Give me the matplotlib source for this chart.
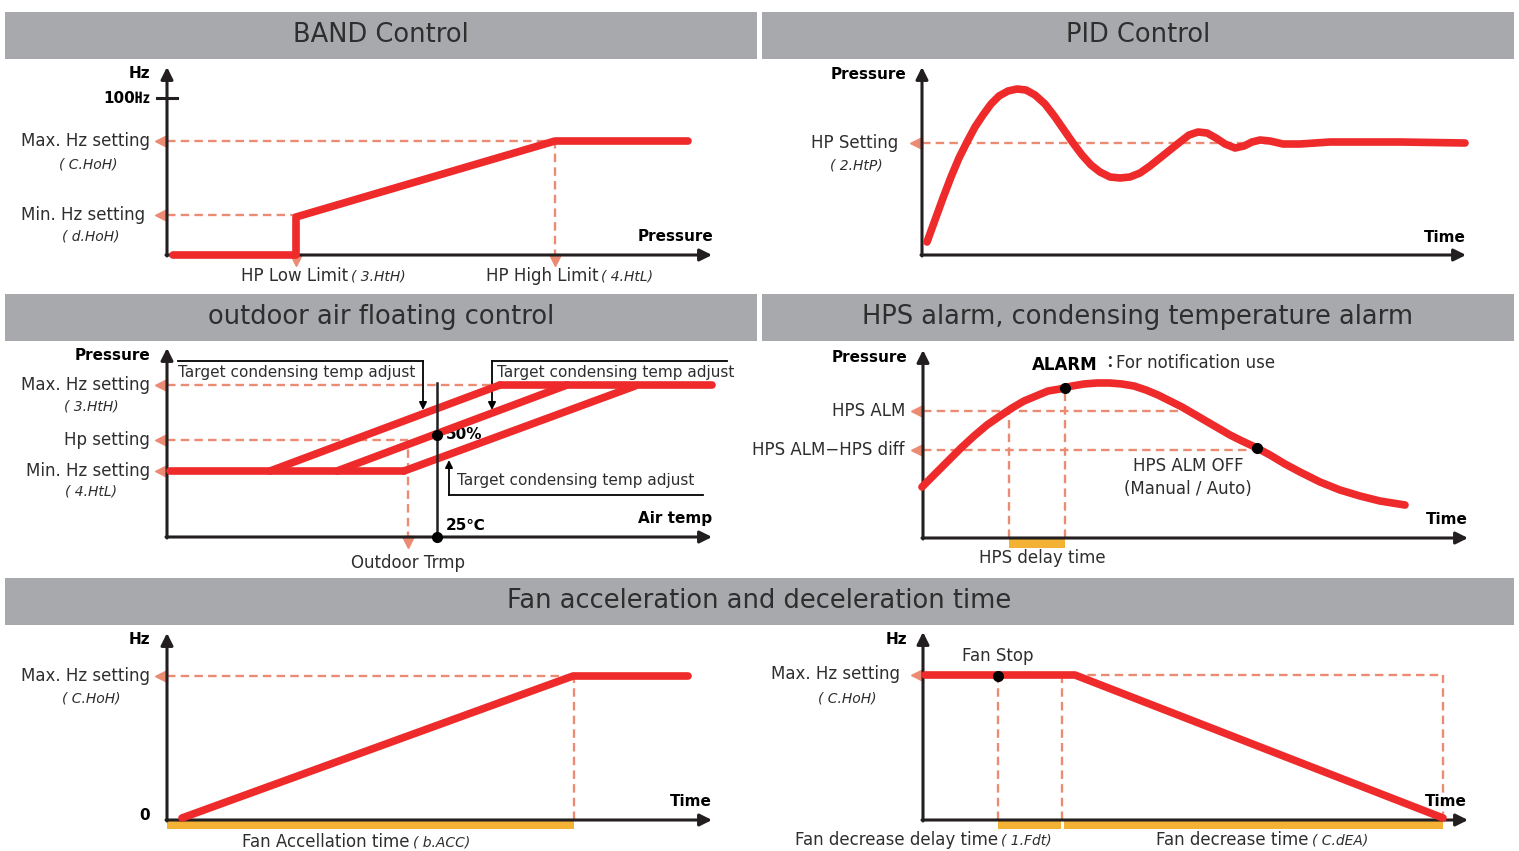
import matplotlib
matplotlib.use("Agg")
import matplotlib.pyplot as plt
from matplotlib.patches import Rectangle

plt.rcParams['font.family'] = ['DejaVu Sans', 'Noto Sans CJK KR']

W, H = 1519, 851
RED = '#ee2a2b'
SALMON = '#ec8b73'
ORANGE = '#f3b233'
GRAY = '#a8a9ad'
DARK = '#231f20'
TXT = '#2e2e2e'

# ---- data: panel units, right / up from each axis origin ----
# BAND control
band_x = [6, 129, 129, 388, 521]
band_y = [0, 0, 38, 114, 114]
band_max, band_min, band_100 = 114, 40, 157
band_low_x, band_high_x = 129, 388

# PID control
pid_x = [5, 13, 21, 29, 37, 45, 53, 61, 69, 77, 86, 95, 104, 113, 123, 133,
         142, 151, 160, 169, 178, 188, 198, 208, 218, 228, 238, 248, 258, 267,
         276, 285, 294, 303, 313, 322, 330, 338, 348, 361, 378, 408, 478, 543]
pid_y = [13, 35, 57, 78, 97, 113, 128, 140, 151, 159, 164, 166, 165, 160, 151,
         138, 125, 112, 100, 90, 83, 78, 77, 78, 82, 89, 97, 105, 113, 120,
         123, 122, 117, 111, 107, 109, 113, 115, 114, 111, 111, 113, 113, 112]
pid_set = 112

# outdoor air floating control
oat_base_x = [3, 237]
oat_base_y = [66, 66]
oat_diag_x = [[103, 333], [170, 400], [237, 468]]
oat_diag_y = [[66, 152], [66, 152], [66, 151]]
oat_top_x = [333, 545]
oat_top_y = [152, 152]
oat_max, oat_hp, oat_min = 152, 97, 66
oat_outdoor_x = 241
oat_25_x, oat_50_y, oat_line_top = 270, 102, 154

# HPS alarm
hps_x = [-1, 12, 25, 38, 51, 64, 77, 89, 101, 113, 125, 137, 149, 161, 174,
         187, 199, 211, 223, 235, 247, 259, 271, 283, 295, 307, 319, 334, 347,
         362, 377, 397, 417, 437, 457, 482]
hps_y = [51, 64, 77, 90, 102, 113, 122, 130, 137, 142, 147, 149, 152, 154, 155,
         155, 154, 152, 148, 143, 137, 131, 124, 117, 110, 103, 97, 90, 83,
         74, 66, 56, 48, 42, 37, 33]
hps_alm, hps_diff = 127, 88
hps_delay = [86, 142]
hps_alarm_pt = (142, 150)
hps_off_pt = (334, 90)

# fan acceleration
acc_x = [15, 406, 521]
acc_y = [2, 144, 144]
acc_max, acc_end = 144, 407

# fan deceleration
dec_x = [2, 152, 520]
dec_y = [145, 145, 2]
dec_max, dec_stop, dec_delay_end, dec_end = 145, 75, 139, 520

fig = plt.figure(figsize=(W / 100, H / 100), dpi=100)
fig.patch.set_facecolor('white')


def header(x0, y0, x1, y1, title):
    fig.add_artist(Rectangle((x0 / W, 1 - y1 / H), (x1 - x0) / W, (y1 - y0) / H,
                             transform=fig.transFigure, color=GRAY, lw=0))
    fig.text((x0 + x1) / 2 / W, 1 - (y0 + y1) / 2 / H, title, ha='center',
             va='center', fontsize=18.5, color=TXT)


def panel(x0, y0, x1, y1, ox, oy):
    ax = fig.add_axes([x0 / W, 1 - y1 / H, (x1 - x0) / W, (y1 - y0) / H])
    ax.set_xlim(x0 - ox, x1 - ox)
    ax.set_ylim(oy - y1, oy - y0)
    ax.axis('off')
    return ax


def axis_arrows(ax, xtip, ytip):
    kw = dict(arrowstyle='-|>', color=DARK, lw=2.2, mutation_scale=18,
              shrinkA=0, shrinkB=0)
    ax.annotate('', xy=(xtip, 0), xytext=(-1, 0), arrowprops=kw)
    ax.annotate('', xy=(0, ytip), xytext=(0, -1), arrowprops=kw)


def hdash(ax, y, x1, x0=0, mark=True):
    ax.plot([x0, x1], [y, y], color=SALMON, lw=1.7, dashes=(3.6, 2.2),
            clip_on=False, zorder=2)
    if mark:
        ax.plot(-6, y, marker='<', color=SALMON, ms=8, clip_on=False, zorder=2)


def vdash(ax, x, y1, y0=0, mark=False):
    ax.plot([x, x], [y0, y1], color=SALMON, lw=1.7, dashes=(3.6, 2.2),
            clip_on=False, zorder=2)
    if mark:
        ax.plot(x, -5, marker='v', color=SALMON, ms=8, clip_on=False, zorder=2)


def red(ax, xs, ys):
    ax.plot(xs, ys, color=RED, lw=5.5, solid_capstyle='round',
            solid_joinstyle='round', clip_on=False, zorder=4)


def label(ax, x, y, s, **kw):
    kw.setdefault('fontsize', 12)
    kw.setdefault('color', TXT)
    kw.setdefault('ha', 'right')
    kw.setdefault('va', 'center')
    ax.text(x, y, s, **kw)


def bold(ax, x, y, s, ha='right', size=11):
    ax.text(x, y, s, fontsize=size, fontweight='bold', color='black', ha=ha,
            va='center')


def code(ax, x, y, s, ha='center'):
    ax.text(x, y, s, fontsize=10, color=TXT, ha=ha, va='center',
            fontstyle='italic', family=['DejaVu Sans'])


def pair(ax, x, y, s, c):
    label(ax, x, y, s)
    code(ax, x + 3, y, c, ha='left')


# headers
header(5, 12, 757, 59, 'BAND Control')
header(762, 12, 1514, 59, 'PID Control')
header(5, 294, 757, 341, 'outdoor air floating control')
header(762, 294, 1514, 341, 'HPS alarm, condensing temperature alarm')
header(5, 578, 1514, 625, 'Fan acceleration and deceleration time')

# ---- BAND control ----
ax = panel(0, 59, 759, 294, 167, 255)
hdash(ax, band_max, band_high_x)
hdash(ax, band_min, band_low_x)
vdash(ax, band_low_x, band_min, -3, mark=True)
vdash(ax, band_high_x, band_max, -3, mark=True)
axis_arrows(ax, 545, 188)
ax.plot([-10, 10], [band_100, band_100], color=DARK, lw=2.2)
red(ax, band_x, band_y)
bold(ax, -17, 182, 'Hz')
bold(ax, -17, band_100, '100㎐')
label(ax, -17, band_max, 'Max. Hz setting')
code(ax, -79, 91, '( C.HoH)')
label(ax, -22, band_min, 'Min. Hz setting')
code(ax, -76, 19, '( d.HoH)')
bold(ax, 546, 19, 'Pressure')
pair(ax, 181, -21, 'HP Low Limit', '( 3.HtH)')
pair(ax, 431, -21, 'HP High Limit', '( 4.HtL)')

# ---- PID control ----
ax = panel(759, 59, 1519, 294, 922, 255)
hdash(ax, pid_set, 540)
axis_arrows(ax, 544, 188)
red(ax, pid_x, pid_y)
bold(ax, -16, 181, 'Pressure')
label(ax, -24, pid_set, 'HP Setting')
code(ax, -66, 90, '( 2.HtP)')
bold(ax, 544, 18, 'Time')

# ---- outdoor air floating control ----
ax = panel(0, 341, 759, 578, 167, 537)
hdash(ax, oat_max, 340)
hdash(ax, oat_hp, oat_outdoor_x)
hdash(ax, oat_min, 5)
vdash(ax, oat_outdoor_x, oat_hp, -3, mark=True)
axis_arrows(ax, 545, 189)
red(ax, oat_base_x, oat_base_y)
for xs, ys in zip(oat_diag_x, oat_diag_y):
    red(ax, xs, ys)
red(ax, oat_top_x, oat_top_y)
ax.plot([oat_25_x, oat_25_x], [0, oat_line_top], color=DARK, lw=1.8, zorder=5)
ax.plot([oat_25_x, oat_25_x], [oat_50_y, 0], 'o', color='black', ms=7, zorder=6)
bold(ax, 279, oat_50_y, '50%', ha='left')
bold(ax, 279, 12, '25℃', ha='left')
bold(ax, -17, 181, 'Pressure')
label(ax, -17, oat_max, 'Max. Hz setting')
code(ax, -76, 130, '( 3.HtH)')
label(ax, -17, oat_hp, 'Hp setting')
label(ax, -17, oat_min, 'Min. Hz setting')
code(ax, -76, 45, '( 4.HtL)')
bold(ax, 545, 19, 'Air temp')
label(ax, oat_outdoor_x, -26, 'Outdoor Trmp', ha='center')
ck = dict(arrowstyle='-|>', color='black', lw=1.3, mutation_scale=11,
          shrinkA=0, shrinkB=0)
ax.plot([11, 256], [176, 176], color='black', lw=1.3)
ax.annotate('', xy=(256, 127), xytext=(256, 176), arrowprops=ck)
ax.plot([325, 560], [176, 176], color='black', lw=1.3)
ax.annotate('', xy=(325, 127), xytext=(325, 176), arrowprops=ck)
ax.plot([282, 536], [42, 42], color='black', lw=1.3)
ax.annotate('', xy=(282, 77), xytext=(282, 42), arrowprops=ck)
label(ax, 11, 165, 'Target condensing temp adjust', ha='left', fontsize=11)
label(ax, 330, 165, 'Target condensing temp adjust', ha='left', fontsize=11)
label(ax, 290, 56, 'Target condensing temp adjust', ha='left', fontsize=11)

# ---- HPS alarm ----
ax = panel(759, 341, 1519, 578, 923, 538)
hdash(ax, hps_alm, 267)
hdash(ax, hps_diff, hps_off_pt[0])
vdash(ax, hps_delay[0], hps_alm)
vdash(ax, hps_delay[1], hps_alarm_pt[1])
ax.bar((hps_delay[0] + hps_delay[1]) / 2, -10, width=hps_delay[1] - hps_delay[0],
       color=ORANGE, zorder=3)
axis_arrows(ax, 545, 188)
red(ax, hps_x, hps_y)
ax.plot(*hps_alarm_pt, 'o', color='black', ms=7, zorder=6)
ax.plot(*hps_off_pt, 'o', color='black', ms=7, zorder=6)
bold(ax, -16, 181, 'Pressure')
label(ax, -18, hps_alm, 'HPS ALM')
label(ax, -18, hps_diff, 'HPS ALM−HPS diff')
bold(ax, 109, 173, 'ALARM', ha='left', size=12)
label(ax, 178, 175, '：', ha='left', fontweight='bold')
label(ax, 193, 175, 'For notification use', ha='left')
label(ax, 265, 72, 'HPS ALM OFF', ha='center')
label(ax, 265, 49, '(Manual / Auto)', ha='center')
label(ax, 119, -20, 'HPS delay time', ha='center')
bold(ax, 545, 18, 'Time')

# ---- fan acceleration ----
ax = panel(0, 625, 759, 851, 167, 820)
hdash(ax, acc_max, acc_end)
vdash(ax, acc_end, acc_max)
ax.bar(acc_end / 2, -9, width=acc_end, color=ORANGE, zorder=3)
axis_arrows(ax, 545, 187)
red(ax, acc_x, acc_y)
bold(ax, -17, 180, 'Hz')
bold(ax, -17, 4, '0')
label(ax, -17, acc_max, 'Max. Hz setting')
code(ax, -76, 122, '( C.HoH)')
pair(ax, 243, -22, 'Fan Accellation time', '( b.ACC)')
bold(ax, 545, 18, 'Time')

# ---- fan deceleration ----
ax = panel(759, 625, 1519, 851, 923, 820)
hdash(ax, dec_max, dec_end)
vdash(ax, dec_end, dec_max)
vdash(ax, dec_stop, dec_max)
vdash(ax, dec_delay_end, dec_max)
ax.bar((dec_stop + dec_delay_end - 1) / 2, -9, width=dec_delay_end - 1 - dec_stop,
       color=ORANGE, zorder=3)
ax.bar((dec_delay_end + 2 + dec_end) / 2, -9, width=dec_end - dec_delay_end - 2,
       color=ORANGE, zorder=3)
axis_arrows(ax, 545, 188)
red(ax, dec_x, dec_y)
ax.plot(dec_stop, dec_max - 1, 'o', color='black', ms=7, zorder=6)
bold(ax, -16, 180, 'Hz')
label(ax, -23, dec_max + 1, 'Max. Hz setting')
code(ax, -76, 122, '( C.HoH)')
label(ax, dec_stop, 164, 'Fan Stop', ha='center')
pair(ax, 75, -20, 'Fan decrease delay time', '( 1.Fdt)')
pair(ax, 386, -20, 'Fan decrease time', '( C.dEA)')
bold(ax, 544, 18, 'Time')

fig.savefig('out.png', dpi=100, facecolor='white')
